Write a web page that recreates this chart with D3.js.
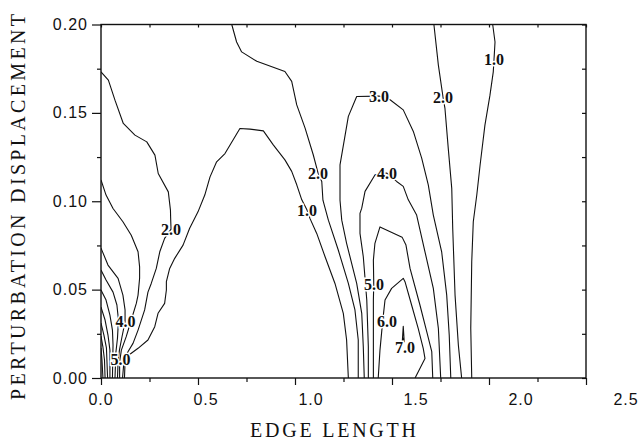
<!DOCTYPE html>
<html>
<head>
<meta charset="utf-8">
<script src="https://cdn.jsdelivr.net/npm/d3@7/dist/d3.min.js"></script>
<style>
  html, body { margin: 0; padding: 0; background: #fff; }
  svg { display: block; }
</style>
</head>
<body>
<svg id="chart" width="638" height="442"></svg>
<script>
// ---------------- DATA ----------------
const xMajorTicks = [0, 0.5, 1.0, 1.5, 2.0, 2.5];
const xMinorTicks = [0.25, 0.75, 1.25, 1.75, 2.25];
const yMajorTicks = [0, 0.05, 0.10, 0.15, 0.20];
const yMinorTicks = [0.025, 0.075, 0.125, 0.175];
const xTitle = "EDGE LENGTH";
const yTitle = "PERTURBATION DISPLACEMENT";

// contour lines, [edge length, displacement]
const c1Hump = [[0.121,0.0],[0.124,0.009],[0.144,0.013],[0.191,0.0168],[0.242,0.0215],[0.277,0.029],[0.294,0.0366],[0.328,0.0422],[0.337,0.0498],[0.337,0.0545],[0.354,0.062],[0.380,0.0677],[0.423,0.0752],[0.457,0.0847],[0.500,0.094],[0.535,0.1035],[0.562,0.1138],[0.596,0.1223],[0.639,0.127],[0.716,0.1412],[0.768,0.1408],[0.837,0.1398],[0.888,0.1319],[0.948,0.1234],[0.983,0.1169],[1.009,0.1093],[1.035,0.1008],[1.062,0.095],[1.077,0.0903],[1.112,0.0818],[1.155,0.0686],[1.206,0.0535],[1.249,0.0366],[1.266,0.0215],[1.275,0.0]];
const c2Hump = [[0.674,0.2],[0.699,0.1901],[0.725,0.1845],[0.803,0.1792],[0.948,0.1734],[0.983,0.1678],[1.009,0.1545],[1.052,0.1414],[1.094,0.1263],[1.119,0.1159],[1.138,0.1112],[1.144,0.1006],[1.172,0.0893],[1.223,0.0724],[1.275,0.0535],[1.309,0.0385],[1.326,0.0215],[1.326,0.0]];
const c3 = [[1.357,0.0],[1.352,0.0177],[1.344,0.0366],[1.318,0.0535],[1.266,0.0762],[1.241,0.0893],[1.232,0.1006],[1.232,0.1206],[1.275,0.148],[1.318,0.1593],[1.433,0.1595],[1.490,0.1574],[1.558,0.1517],[1.610,0.1395],[1.653,0.1244],[1.687,0.1093],[1.713,0.0922],[1.756,0.0714],[1.782,0.0469],[1.795,0.0243],[1.803,0.0]];
const c4 = [[1.378,0.0],[1.378,0.0177],[1.370,0.0441],[1.352,0.0686],[1.335,0.0818],[1.335,0.0931],[1.344,0.0961],[1.361,0.1056],[1.412,0.1149],[1.474,0.1159],[1.524,0.1112],[1.558,0.1084],[1.584,0.1008],[1.627,0.0922],[1.670,0.0714],[1.713,0.0507],[1.739,0.0281],[1.751,0.0]];
const c5 = [[1.404,0.0],[1.404,0.0215],[1.404,0.0441],[1.406,0.0531],[1.404,0.0667],[1.412,0.0762],[1.438,0.0855],[1.552,0.0797],[1.572,0.0752],[1.593,0.062],[1.644,0.0413],[1.679,0.0262],[1.705,0.0149],[1.710,0.0]];
const c6 = [[1.429,0.0],[1.438,0.0158],[1.452,0.0322],[1.464,0.0441],[1.498,0.0507],[1.558,0.0564],[1.567,0.0545],[1.601,0.0413],[1.635,0.0281],[1.661,0.0168],[1.670,0.0111],[1.619,0.0]];
const c7 = [[1.553,0.0205],[1.558,0.0292],[1.563,0.0205],[1.558,0.0225],[1.553,0.0205]];
const c2Right = [[1.716,0.2],[1.739,0.177],[1.763,0.1589],[1.773,0.1525],[1.790,0.1299],[1.808,0.1073],[1.813,0.0846],[1.825,0.0469],[1.842,0.0187],[1.859,0.0]];
const c1Right = [[2.019,0.2],[2.031,0.1901],[2.026,0.1804],[2.022,0.1732],[2.005,0.16],[1.979,0.1431],[1.954,0.1204],[1.937,0.1035],[1.919,0.0884],[1.911,0.0658],[1.906,0.0281],[1.911,0.0]];
const c2Left = [[0,0.1732],[0.038,0.1685],[0.072,0.1572],[0.115,0.144],[0.175,0.1374],[0.236,0.1336],[0.278,0.1261],[0.295,0.1157],[0.347,0.1053],[0.358,0.095],[0.359,0.0905],[0.361,0.0842],[0.328,0.079],[0.303,0.0714],[0.285,0.062],[0.259,0.0535],[0.242,0.0486],[0.225,0.0385],[0.191,0.0271],[0.165,0.0196],[0.139,0.0149],[0.119,0.0102],[0.111,0.0]];
const c3Left = [[0,0.112],[0.026,0.1035],[0.062,0.0959],[0.113,0.0884],[0.156,0.0808],[0.191,0.0714],[0.199,0.0629],[0.199,0.0564],[0.191,0.0469],[0.182,0.0422],[0.156,0.0328],[0.130,0.0234],[0.105,0.0158],[0.096,0.0092],[0.096,0.0]];
const c4Left = [[0,0.0735],[0.036,0.0639],[0.088,0.0564],[0.113,0.0469],[0.124,0.0385],[0.124,0.0317],[0.108,0.0232],[0.095,0.0158],[0.088,0.009],[0.085,0.0]];
const c5Left = [[0,0.0611],[0.026,0.0554],[0.062,0.0486],[0.082,0.0413],[0.090,0.0328],[0.085,0.0226],[0.077,0.0147],[0.072,0.0]];
const c6Left = [[0,0.0498],[0.026,0.0441],[0.046,0.0356],[0.059,0.0271],[0.062,0.0187],[0.059,0.0]];
const c7Left = [[0,0.0401],[0.021,0.0328],[0.036,0.0243],[0.046,0.0158],[0.046,0.0]];
const c8Left = [[0,0.0311],[0.015,0.0243],[0.028,0.017],[0.034,0.0]];
const c9Left = [[0,0.0237],[0.010,0.0175],[0.018,0.0102],[0.021,0.0]];
const c10Left = [[0,0.017],[0.005,0.0102],[0.010,0.0]];

const contours = [c1Hump, c2Hump, c3, c4, c5, c6, c7, c2Right, c1Right,
                  c2Left, c3Left, c4Left, c5Left, c6Left, c7Left, c8Left, c9Left, c10Left];

// contour labels
const labelText = ["2.0", "4.0", "5.0", "1.0", "2.0", "3.0", "4.0", "5.0", "6.0", "7.0", "2.0", "1.0"];
const labelX    = [0.361, 0.126, 0.100, 1.062, 1.119, 1.433, 1.474, 1.407, 1.474, 1.567, 1.763, 2.026];
const labelY    = [0.0842, 0.0318, 0.0107, 0.095, 0.1159, 0.1595, 0.1159, 0.0531, 0.0322, 0.017, 0.1589, 0.1804];

// ---------------- DRAW ----------------
const svg = d3.select("#chart");
const L = 101, R = 586, T = 24.5, B = 378;

const x = d3.scaleLinear().domain([0, 2.5]).range([L, R]);
const xLab = d3.scaleLinear().domain([0, 2.5]).range([101, 626]); // printed labels drift right of ticks
const y = d3.scaleLinear().domain([0, 0.2]).range([B, T]);

svg.append("defs").append("clipPath").attr("id", "clip")
  .append("rect").attr("x", L).attr("y", T).attr("width", R - L).attr("height", B - T);

const line = d3.line().x(d => x(d[0])).y(d => y(d[1]));

svg.append("g").attr("clip-path", "url(#clip)")
  .selectAll("path").data(contours).join("path")
  .attr("d", line)
  .attr("fill", "none")
  .attr("stroke", "#111")
  .attr("stroke-width", 1.1)
  .attr("stroke-linejoin", "round");

// contour labels with white halo
svg.append("g").selectAll("text").data(labelText).join("text")
  .attr("x", (d, i) => x(labelX[i]))
  .attr("y", (d, i) => y(labelY[i]))
  .attr("text-anchor", "middle")
  .attr("dominant-baseline", "central")
  .attr("font-family", "'Liberation Serif', 'Times New Roman', serif")
  .attr("font-weight", "bold")
  .attr("font-size", 16)
  .attr("fill", "#111")
  .attr("stroke", "#fff")
  .attr("stroke-width", 3)
  .attr("paint-order", "stroke")
  .text(d => d);

// axes ticks
function clean(g) { g.select(".domain").remove(); g.selectAll("line").attr("stroke", "#111").attr("stroke-width", 1.2); }
svg.append("g").attr("transform", `translate(0,${B})`)
  .call(d3.axisBottom(x).tickValues(xMajorTicks).tickSize(7).tickFormat("")).call(clean);
svg.append("g").attr("transform", `translate(0,${B})`)
  .call(d3.axisBottom(x).tickValues(xMinorTicks).tickSize(4).tickFormat("")).call(clean);
svg.append("g").attr("transform", `translate(0,${T})`)
  .call(d3.axisBottom(x).tickValues(xMajorTicks.concat(xMinorTicks)).tickSize(3).tickFormat("")).call(clean);
svg.append("g").attr("transform", `translate(${L},0)`)
  .call(d3.axisLeft(y).tickValues(yMajorTicks).tickSize(9).tickFormat("")).call(clean);
svg.append("g").attr("transform", `translate(${L},0)`)
  .call(d3.axisLeft(y).tickValues(yMinorTicks).tickSize(4).tickFormat("")).call(clean);
svg.append("g").attr("transform", `translate(${R},0)`)
  .call(d3.axisLeft(y).tickValues(yMajorTicks.concat(yMinorTicks)).tickSize(4).tickFormat("")).call(clean);

// frame
svg.append("rect").attr("x", L).attr("y", T).attr("width", R - L).attr("height", B - T)
  .attr("fill", "none").attr("stroke", "#111").attr("stroke-width", 1.4);

// tick labels
const tickFont = "'Liberation Sans', Arial, Helvetica, sans-serif";
svg.append("g").selectAll("text").data(xMajorTicks).join("text")
  .attr("x", d => xLab(d))
  .attr("y", 405)
  .attr("text-anchor", "middle")
  .attr("font-family", tickFont).attr("font-size", 16).attr("letter-spacing", 1)
  .attr("fill", "#111")
  .text(d3.format(".1f"));
svg.append("g").selectAll("text").data(yMajorTicks).join("text")
  .attr("x", 88)
  .attr("y", d => y(d))
  .attr("text-anchor", "end")
  .attr("dominant-baseline", "central")
  .attr("font-family", tickFont).attr("font-size", 16).attr("letter-spacing", 1)
  .attr("fill", "#111")
  .text(d3.format(".2f"));

// titles (typewriter-like serif, stretched to the printed width)
const titleFont = "'Liberation Serif', 'Times New Roman', serif";
svg.append("text").attr("x", 250).attr("y", 437)
  .attr("font-family", titleFont).attr("font-size", 20)
  .attr("textLength", 166).attr("lengthAdjust", "spacing")
  .attr("fill", "#111").text(xTitle);
svg.append("text").attr("transform", "translate(25,400) rotate(-90)")
  .attr("font-family", titleFont).attr("font-size", 20)
  .attr("textLength", 386).attr("lengthAdjust", "spacing")
  .attr("fill", "#111").text(yTitle);
</script>
</body>
</html>
